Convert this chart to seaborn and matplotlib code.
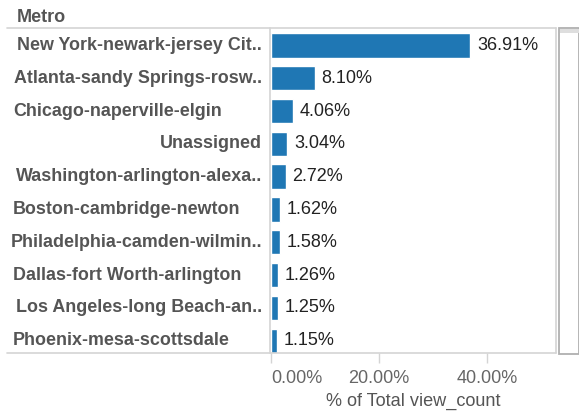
import matplotlib
import matplotlib.pyplot as plt
import seaborn as sns
from matplotlib.lines import Line2D
from matplotlib.patches import Rectangle
from matplotlib.transforms import blended_transform_factory

matplotlib.use("Agg")

# ── Data ──────────────────────────────────────────────────────────────────────

metros = [
    "New York-newark-jersey Cit..",
    "Atlanta-sandy Springs-rosw..",
    "Chicago-naperville-elgin",
    "Unassigned",
    "Washington-arlington-alexa..",
    "Boston-cambridge-newton",
    "Philadelphia-camden-wilmin..",
    "Dallas-fort Worth-arlington",
    "Los Angeles-long Beach-an..",
    "Phoenix-mesa-scottsdale",
]
pct_views = [36.91, 8.10, 4.06, 3.04, 2.72, 1.62, 1.58, 1.26, 1.25, 1.15]
x_ticks = [0, 20, 40]

# ── Style ─────────────────────────────────────────────────────────────────────

sns.set_theme(style="white")
plt.rcParams["font.family"] = ["Liberation Sans", "DejaVu Sans"]

W, H = 579, 412
BAR_COLOR = "#1f77b4"
LINE_GRAY = "#d4d4d4"


def fx(px):
    return px / W


def fy(py):
    return 1 - py / H


fig = plt.figure(figsize=(W / 100, H / 100), dpi=100)
ax = fig.add_axes([fx(271), fy(352.5), fx(556) - fx(271), fy(28) - fy(352.5)])

sns.barplot(x=pct_views, y=metros, orient="h", color=BAR_COLOR, width=0.74,
            saturation=1, ax=ax)

ax.set_xlim(0, 52.8)
ax.set_ylim(9.36, -0.53)

for i, v in enumerate(pct_views):
    ax.annotate(f"{v:.2f}%", xy=(v, i), xytext=(4.8, 0), textcoords="offset points",
                va="center", ha="left", fontsize=13, color="#222222")

for s in ax.spines.values():
    s.set_visible(False)

ax.set_xticks(x_ticks)
ax.set_xticklabels([f"{t:.2f}%" for t in x_ticks])
ax.get_xticklabels()[0].set_horizontalalignment("left")
ax.tick_params(axis="x", length=7, width=1, color=LINE_GRAY, pad=5.5,
               labelsize=13, labelcolor="#666666", bottom=True)

# row headers: Tableau keeps short names left, truncated ones fill the column
ax.set_yticks(range(len(metros)))
ax.set_yticklabels([])
ax.tick_params(axis="y", length=0)
row_tr = blended_transform_factory(fig.transFigure, ax.transData)
for i, name in enumerate(metros):
    right = name.endswith("..") or name == "Unassigned"
    ax.text(fx(262) if right else fx(13), i, name, transform=row_tr,
            ha="right" if right else "left", va="center", fontsize=12.9,
            fontweight="bold", color="#555555")

ax.set_ylabel("")
ax.set_xlabel("% of Total view_count", fontsize=13.1, color="#555555", labelpad=4)

# ── Frame lines (Tableau-style) ───────────────────────────────────────────────

def hline(y, x0, x1, color=LINE_GRAY, lw=1.2):
    fig.add_artist(Line2D([fx(x0), fx(x1)], [fy(y), fy(y)], color=color, lw=lw))


def vline(x, y0, y1, color=LINE_GRAY, lw=1.2, ls="-"):
    fig.add_artist(Line2D([fx(x), fx(x)], [fy(y0), fy(y1)], color=color, lw=lw, ls=ls))


hline(28, 7, 556)
hline(352.8, 7, 556)
vline(270.3, 28, 353)
vline(556, 28, 353)

# scrollbar-like box on the right
fig.add_artist(Rectangle((fx(559), fy(353.5)), fx(579) - fx(559), fy(28) - fy(353.5),
                         facecolor="white", edgecolor="#b0b0b0", lw=1.3))
fig.add_artist(Rectangle((fx(560), fy(33)), fx(579) - fx(560), fy(28.5) - fy(33),
                         facecolor="#dedede", edgecolor="none"))

fig.text(fx(17), fy(17), "Metro", fontsize=13, fontweight="bold", color="#555555",
         ha="left", va="center")

fig.savefig("out.png", dpi=100)
plt.close(fig)
